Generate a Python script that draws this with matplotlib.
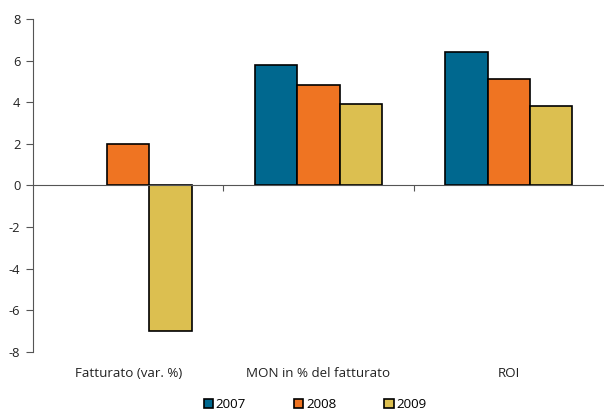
import matplotlib
matplotlib.use("Agg")
import matplotlib.pyplot as plt
import numpy as np

categories = ["Fatturato (var. %)", "MON in % del fatturato", "ROI"]
series = ["2007", "2008", "2009"]
v2007 = [np.nan, 5.8, 6.4]
v2008 = [2.0, 4.85, 5.1]
v2009 = [-7.0, 3.9, 3.8]
yticks = [-8, -6, -4, -2, 0, 2, 4, 6, 8]

colors = ["#00688F", "#EF7422", "#DCBF50"]

plt.rcParams['font.family'] = ['Open Sans', 'DejaVu Sans']
plt.rcParams['axes.unicode_minus'] = False

fig = plt.figure(figsize=(6.04, 4.11), dpi=100)
ax = fig.add_axes([0.0546, 0.1436, 0.9454, 0.8102])

x = np.arange(len(categories)) + 0.5
w = 1 / 4.5
handles = []
for i, (vals, lab) in enumerate(zip([v2007, v2008, v2009], series)):
    b = ax.bar(x + (i - 1) * w, vals, width=w, color=colors[i],
               edgecolor="black", linewidth=1.2, label=lab, zorder=3)
    handles.append(b)

ax.set_xlim(0, 3)
ax.set_ylim(-8, 8)
ax.set_yticks(yticks)
ax.tick_params(axis='y', direction='out', length=5, color='#555555',
               labelsize=9.3, labelcolor='#222222', pad=4)

for s in ['top', 'right']:
    ax.spines[s].set_visible(False)
ax.spines['left'].set_color('#555555')
ax.spines['bottom'].set_position(('data', 0))
ax.spines['bottom'].set_color('#555555')
ax.spines['bottom'].set_zorder(4)
ax.set_xticks([1, 2])
ax.set_xticklabels([])
ax.tick_params(axis='x', direction='out', length=4, color='#555555')

sec = ax.secondary_xaxis('bottom')
sec.set_xticks(x)
sec.set_xticklabels(categories)
sec.tick_params(length=0, pad=10.5, labelsize=9.6, labelcolor='#222222')
sec.spines['bottom'].set_visible(False)

fig.legend(handles=handles, labels=series, loc='center', ncol=3,
           bbox_to_anchor=(0.522, 0.016), frameon=False, fontsize=9.6,
           handlelength=0.7, handleheight=0.7, handletextpad=0.2,
           columnspacing=3.6, borderaxespad=0, borderpad=0)

fig.savefig("out.png", dpi=100)
